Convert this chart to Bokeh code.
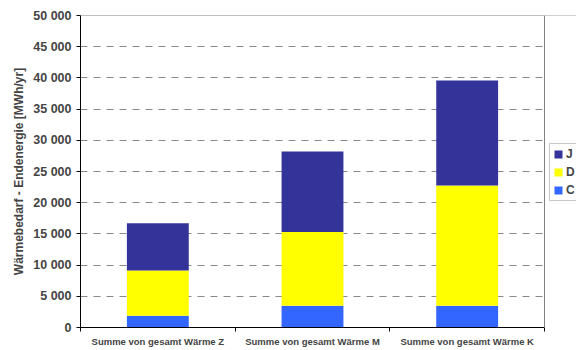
from bokeh.plotting import figure
from bokeh.models import (ColumnDataSource, FixedTicker, CustomJSTickFormatter,
                          Legend, LegendItem, Range1d, Span, BoxAnnotation)
from bokeh.embed import file_html
from bokeh.resources import INLINE

# Heat demand (final energy) per scenario, MWh/yr
categories = ["Summe von gesamt Wärme Z", "Summe von gesamt Wärme M", "Summe von gesamt Wärme K"]
series = ["C", "D", "J"]
values_C = [1900, 3500, 3500]
values_D = [7250, 11800, 19250]
values_J = [7550, 12900, 16850]
colors = {"C": "#3366FF", "D": "#FFFF00", "J": "#333399"}
y_ticks = [0, 5000, 10000, 15000, 20000, 25000, 30000, 35000, 40000, 45000, 50000]
y_max = 50000

n = len(categories)
x_pos = [i + 0.5 for i in range(n)]
source = ColumnDataSource(dict(x=x_pos, C=values_C, D=values_D, J=values_J))

# The frame runs to the right edge so the legend can sit beside the plot area;
# the part beyond the last category is masked off below.
plot_px, extra_px = 464, 32
x_end = n * (plot_px + extra_px) / plot_px

p = figure(width=576, height=350,
           x_range=Range1d(0, x_end), y_range=Range1d(0, y_max),
           output_backend="svg", toolbar_location=None,
           min_border_left=80, min_border_top=15, min_border_bottom=23,
           min_border_right=0, background_fill_color="white",
           border_fill_color="white")

renderers = p.vbar_stack(series, x="x", width=0.4, source=source,
                         color=[colors[s] for s in series], line_color=None)
by_name = dict(zip(series, renderers))

font = "Liberation Sans"

# y axis
p.yaxis.ticker = FixedTicker(ticks=y_ticks)
p.yaxis.formatter = CustomJSTickFormatter(
    code="return tick.toFixed(0).replace(/\\B(?=(\\d{3})+(?!\\d))/g, ' ');")
p.yaxis.axis_label = "Wärmebedarf - Endenergie [MWh/yr]"
p.yaxis.axis_label_text_font = font
p.yaxis.axis_label_text_font_style = "bold"
p.yaxis.axis_label_text_font_size = "12px"
p.yaxis.axis_label_standoff = 4
p.yaxis.major_label_text_font = font
p.yaxis.major_label_text_font_style = "bold"
p.yaxis.major_label_text_font_size = "12.5px"
p.yaxis.major_label_standoff = 5
p.yaxis.major_tick_out = 4
p.yaxis.major_tick_in = 0
p.yaxis.minor_tick_out = 0
p.yaxis.minor_tick_in = 0
p.yaxis.axis_line_color = "black"
p.yaxis.major_tick_line_color = "black"

# x axis: labels at category centres, ticks at category boundaries
p.xaxis.bounds = (0, n)
p.xaxis.ticker = FixedTicker(ticks=x_pos, minor_ticks=list(range(n + 1)))
p.xaxis.major_label_overrides = {x: c for x, c in zip(x_pos, categories)}
p.xaxis.major_label_text_font = font
p.xaxis.major_label_text_font_style = "bold"
p.xaxis.major_label_text_font_size = "9.5px"
p.xaxis.major_tick_out = 0
p.xaxis.major_tick_in = 0
p.xaxis.minor_tick_out = 4
p.xaxis.minor_tick_in = 0
p.xaxis.minor_tick_line_color = "black"
p.xaxis.axis_line_color = "black"
p.xaxis.major_label_standoff = 4

# grid
p.xgrid.grid_line_color = None
p.ygrid.grid_line_color = "#8a8a8a"
p.ygrid.grid_line_dash = "7 6"
p.ygrid.grid_line_width = 1
p.outline_line_color = None

# plot-area border: solid top edge, then mask beyond the last category, then right edge
p.add_layout(Span(location=y_max, dimension="width", line_color="#808080", line_width=1))
p.add_layout(BoxAnnotation(left=n, fill_color="white", fill_alpha=1, line_color=None))
p.add_layout(Span(location=n, dimension="height", line_color="#808080", line_width=1))

legend = Legend(items=[LegendItem(label=s, renderers=[by_name[s]]) for s in ["J", "D", "C"]],
                location=(469, 126), orientation="vertical",
                glyph_width=10, glyph_height=10, label_standoff=3,
                label_text_font=font, label_text_font_style="bold",
                label_text_font_size="12px", label_height=10, label_width=8,
                spacing=4, padding=3, margin=0,
                border_line_color="#909090", border_line_width=1,
                background_fill_color="white", background_fill_alpha=1)
p.add_layout(legend, "center")

open("out.html", "w").write(file_html(p, INLINE))
